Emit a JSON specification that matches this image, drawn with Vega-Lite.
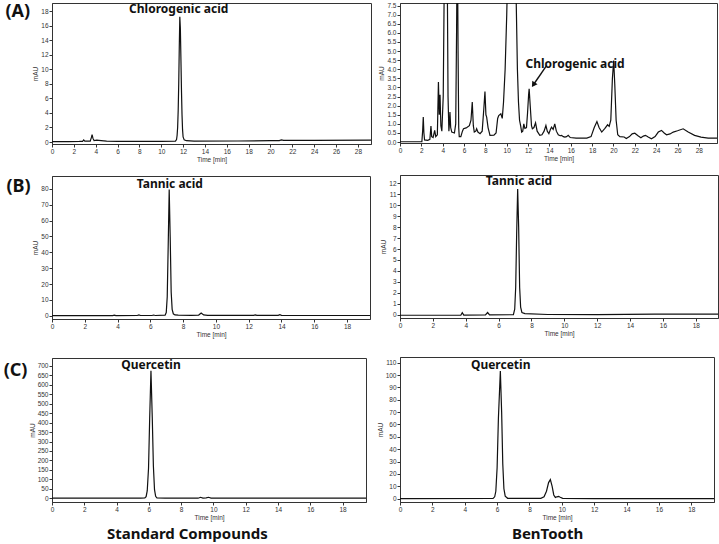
{
  "$schema": "https://vega.github.io/schema/vega-lite/v6.json",
  "padding": {"left": 3, "top": 2, "right": 0, "bottom": 0},
  "background": "white",
  "config": {
    "view": {"stroke": "#333", "strokeWidth": 1},
    "axis": {"labelFont": "Liberation Sans", "labelFontSize": 6.5, "labelColor": "#333", "tickColor": "#333", "tickSize": 3, "domainColor": "#333", "grid": false, "titleFont": "Liberation Sans", "titleFontSize": 6.5, "titleFontWeight": "normal", "titleColor": "#333", "labelPadding": 1, "titlePadding": 2, "labelOverlap": false, "labelFlush": false},
    "title": {"font": "Noto Sans", "fontWeight": "bold", "color": "#111"},
    "line": {"color": "#111", "strokeWidth": 1.2},
    "text": {"font": "Noto Sans", "fontWeight": "bold", "fontSize": 12, "color": "#111"}
  },
  "datasets": {
    "A_std": [
      {"t":0,"mAU":0.05},{"t":1.5,"mAU":0.05},{"t":2.5,"mAU":0.08},{"t":2.8,"mAU":0.1},{"t":2.9,"mAU":0.3},{"t":3.0,"mAU":0.12},{"t":3.5,"mAU":0.12},{"t":3.6,"mAU":0.6},{"t":3.67,"mAU":1.0},{"t":3.75,"mAU":0.5},{"t":3.85,"mAU":0.2},{"t":4.1,"mAU":0.25},{"t":4.5,"mAU":0.2},{"t":5.0,"mAU":0.12},{"t":6,"mAU":0.08},{"t":8,"mAU":0.08},{"t":10,"mAU":0.1},{"t":11.3,"mAU":0.12},{"t":11.4,"mAU":0.35},{"t":11.45,"mAU":0.9},{"t":11.5,"mAU":2.0},{"t":11.55,"mAU":4.3},{"t":11.6,"mAU":8.0},{"t":11.65,"mAU":13.0},{"t":11.7,"mAU":17.2},{"t":11.75,"mAU":15.6},{"t":11.8,"mAU":11.5},{"t":11.85,"mAU":7.2},{"t":11.9,"mAU":3.8},{"t":11.95,"mAU":1.7},{"t":12.0,"mAU":0.7},{"t":12.1,"mAU":0.3},{"t":12.3,"mAU":0.18},{"t":13,"mAU":0.13},{"t":17,"mAU":0.14},{"t":20,"mAU":0.18},{"t":20.8,"mAU":0.2},{"t":21.0,"mAU":0.3},{"t":21.2,"mAU":0.22},{"t":24,"mAU":0.22},{"t":29.2,"mAU":0.25}
    ],
    "A_ben": [
      {"t":0,"mAU":0.02},{"t":1.0,"mAU":0.02},{"t":2.05,"mAU":0.03},{"t":2.12,"mAU":0.6},{"t":2.18,"mAU":1.37},{"t":2.24,"mAU":0.5},{"t":2.3,"mAU":0.12},{"t":2.6,"mAU":0.1},{"t":2.8,"mAU":0.15},{"t":2.9,"mAU":0.88},{"t":2.97,"mAU":0.3},{"t":3.1,"mAU":0.25},{"t":3.25,"mAU":0.64},{"t":3.35,"mAU":0.3},{"t":3.5,"mAU":0.4},{"t":3.6,"mAU":3.3},{"t":3.68,"mAU":1.5},{"t":3.75,"mAU":2.6},{"t":3.83,"mAU":0.9},{"t":3.92,"mAU":0.6},{"t":4.05,"mAU":2.5},{"t":4.15,"mAU":9},{"t":4.3,"mAU":16},{"t":4.42,"mAU":10},{"t":4.5,"mAU":2.5},{"t":4.58,"mAU":0.6},{"t":4.63,"mAU":1.0},{"t":4.68,"mAU":1.65},{"t":4.75,"mAU":0.8},{"t":4.85,"mAU":0.55},{"t":5.1,"mAU":0.5},{"t":5.22,"mAU":1.0},{"t":5.3,"mAU":6},{"t":5.37,"mAU":12},{"t":5.44,"mAU":5},{"t":5.5,"mAU":0.8},{"t":5.55,"mAU":0.3},{"t":5.7,"mAU":0.3},{"t":5.85,"mAU":0.6},{"t":5.95,"mAU":0.73},{"t":6.2,"mAU":0.78},{"t":6.5,"mAU":0.9},{"t":6.65,"mAU":1.2},{"t":6.77,"mAU":2.2},{"t":6.87,"mAU":0.9},{"t":6.96,"mAU":0.55},{"t":7.1,"mAU":0.6},{"t":7.18,"mAU":0.73},{"t":7.3,"mAU":0.55},{"t":7.5,"mAU":0.46},{"t":7.7,"mAU":0.6},{"t":7.85,"mAU":1.8},{"t":7.96,"mAU":2.78},{"t":8.05,"mAU":1.5},{"t":8.12,"mAU":1.37},{"t":8.25,"mAU":0.8},{"t":8.43,"mAU":0.37},{"t":8.8,"mAU":0.38},{"t":9.0,"mAU":0.5},{"t":9.15,"mAU":1.3},{"t":9.25,"mAU":1.46},{"t":9.45,"mAU":1.55},{"t":9.58,"mAU":1.3},{"t":9.7,"mAU":2.2},{"t":9.85,"mAU":4},{"t":10.0,"mAU":7},{"t":10.15,"mAU":11},{"t":10.4,"mAU":18},{"t":10.55,"mAU":19},{"t":10.7,"mAU":16},{"t":10.85,"mAU":9},{"t":11.0,"mAU":4},{"t":11.1,"mAU":2.2},{"t":11.2,"mAU":1.2},{"t":11.3,"mAU":0.9},{"t":11.4,"mAU":0.55},{"t":11.5,"mAU":0.6},{"t":11.6,"mAU":1.0},{"t":11.7,"mAU":0.75},{"t":11.85,"mAU":0.8},{"t":11.95,"mAU":1.6},{"t":12.05,"mAU":2.6},{"t":12.1,"mAU":2.93},{"t":12.2,"mAU":2.0},{"t":12.32,"mAU":0.9},{"t":12.4,"mAU":0.73},{"t":12.55,"mAU":0.8},{"t":12.7,"mAU":1.06},{"t":12.85,"mAU":0.6},{"t":13.1,"mAU":0.37},{"t":13.3,"mAU":0.4},{"t":13.5,"mAU":0.6},{"t":13.67,"mAU":0.91},{"t":13.8,"mAU":0.6},{"t":13.95,"mAU":0.46},{"t":14.1,"mAU":0.7},{"t":14.2,"mAU":0.82},{"t":14.35,"mAU":0.7},{"t":14.5,"mAU":1.0},{"t":14.65,"mAU":0.6},{"t":14.83,"mAU":0.4},{"t":15.0,"mAU":0.35},{"t":15.14,"mAU":0.37},{"t":15.3,"mAU":0.3},{"t":15.45,"mAU":0.27},{"t":15.6,"mAU":0.3},{"t":15.76,"mAU":0.37},{"t":15.95,"mAU":0.25},{"t":16.5,"mAU":0.22},{"t":17.5,"mAU":0.22},{"t":17.9,"mAU":0.3},{"t":18.2,"mAU":0.8},{"t":18.45,"mAU":1.13},{"t":18.65,"mAU":0.8},{"t":18.9,"mAU":0.55},{"t":19.2,"mAU":0.75},{"t":19.45,"mAU":0.95},{"t":19.6,"mAU":0.86},{"t":19.75,"mAU":1.2},{"t":19.9,"mAU":3.5},{"t":20.02,"mAU":4.48},{"t":20.12,"mAU":3.2},{"t":20.25,"mAU":1.2},{"t":20.4,"mAU":0.4},{"t":20.6,"mAU":0.3},{"t":21.0,"mAU":0.28},{"t":21.2,"mAU":0.2},{"t":21.5,"mAU":0.3},{"t":21.75,"mAU":0.45},{"t":22.0,"mAU":0.49},{"t":22.3,"mAU":0.35},{"t":22.57,"mAU":0.24},{"t":22.8,"mAU":0.33},{"t":23.0,"mAU":0.37},{"t":23.25,"mAU":0.28},{"t":23.56,"mAU":0.18},{"t":23.9,"mAU":0.3},{"t":24.2,"mAU":0.55},{"t":24.5,"mAU":0.64},{"t":24.75,"mAU":0.5},{"t":24.97,"mAU":0.4},{"t":25.3,"mAU":0.45},{"t":25.6,"mAU":0.55},{"t":26.0,"mAU":0.62},{"t":26.53,"mAU":0.73},{"t":27.0,"mAU":0.55},{"t":27.6,"mAU":0.37},{"t":28.2,"mAU":0.27},{"t":28.87,"mAU":0.22},{"t":29.7,"mAU":0.22}
    ],
    "B_std": [
      {"t":0,"mAU":0},{"t":3.7,"mAU":0},{"t":3.8,"mAU":0.3},{"t":3.9,"mAU":0},{"t":5.2,"mAU":0.1},{"t":5.3,"mAU":0.5},{"t":5.4,"mAU":0.1},{"t":6.1,"mAU":0.1},{"t":6.2,"mAU":0.4},{"t":6.3,"mAU":0.1},{"t":6.9,"mAU":0.3},{"t":6.97,"mAU":2},{"t":7.03,"mAU":12},{"t":7.09,"mAU":45},{"t":7.15,"mAU":79.6},{"t":7.21,"mAU":50},{"t":7.27,"mAU":15},{"t":7.33,"mAU":4},{"t":7.4,"mAU":1.2},{"t":7.5,"mAU":0.5},{"t":7.7,"mAU":0.3},{"t":8.5,"mAU":0.2},{"t":8.95,"mAU":0.4},{"t":9.1,"mAU":1.7},{"t":9.25,"mAU":0.5},{"t":9.5,"mAU":0.2},{"t":12.3,"mAU":0.2},{"t":12.4,"mAU":0.5},{"t":12.5,"mAU":0.2},{"t":13.8,"mAU":0.2},{"t":13.9,"mAU":0.6},{"t":14.0,"mAU":0.2},{"t":19.4,"mAU":0.1}
    ],
    "B_ben": [
      {"t":0,"mAU":-0.05},{"t":3.7,"mAU":-0.05},{"t":3.79,"mAU":0.18},{"t":3.88,"mAU":-0.03},{"t":5.2,"mAU":-0.02},{"t":5.33,"mAU":0.2},{"t":5.45,"mAU":-0.02},{"t":6.9,"mAU":0},{"t":6.98,"mAU":0.5},{"t":7.04,"mAU":2.5},{"t":7.1,"mAU":7.5},{"t":7.16,"mAU":11.48},{"t":7.22,"mAU":8},{"t":7.28,"mAU":2.5},{"t":7.34,"mAU":0.7},{"t":7.42,"mAU":0.2},{"t":7.6,"mAU":0.1},{"t":9.0,"mAU":0.02},{"t":12,"mAU":0},{"t":15.5,"mAU":0.05},{"t":19.35,"mAU":0.05}
    ],
    "C_std": [
      {"t":0,"mAU":0},{"t":5.5,"mAU":0},{"t":5.75,"mAU":1},{"t":5.83,"mAU":8},{"t":5.9,"mAU":40},{"t":5.98,"mAU":160},{"t":6.05,"mAU":420},{"t":6.13,"mAU":674},{"t":6.21,"mAU":430},{"t":6.28,"mAU":170},{"t":6.35,"mAU":45},{"t":6.42,"mAU":10},{"t":6.5,"mAU":2},{"t":7,"mAU":0},{"t":9.05,"mAU":0},{"t":9.2,"mAU":5},{"t":9.35,"mAU":1},{"t":9.55,"mAU":2},{"t":9.7,"mAU":5},{"t":9.85,"mAU":1},{"t":10.2,"mAU":0},{"t":19.45,"mAU":0}
    ],
    "C_ben": [
      {"t":0,"mAU":0},{"t":5.75,"mAU":0.2},{"t":5.85,"mAU":1.5},{"t":5.92,"mAU":6},{"t":6.0,"mAU":25},{"t":6.08,"mAU":65},{"t":6.2,"mAU":103.2},{"t":6.28,"mAU":70},{"t":6.35,"mAU":28},{"t":6.42,"mAU":8},{"t":6.5,"mAU":2},{"t":6.65,"mAU":0.3},{"t":8.7,"mAU":0.3},{"t":8.9,"mAU":1.5},{"t":9.05,"mAU":6},{"t":9.18,"mAU":13},{"t":9.29,"mAU":15.4},{"t":9.4,"mAU":10},{"t":9.5,"mAU":3},{"t":9.6,"mAU":1},{"t":9.7,"mAU":1.5},{"t":9.8,"mAU":1.9},{"t":9.9,"mAU":1.2},{"t":10.05,"mAU":0.3},{"t":12,"mAU":0.1},{"t":19.4,"mAU":0}
    ]
  },
  "spacing": 4,
  "hconcat": [
    {
      "concat": [
        {
          "concat": [
            {
              "width": 319, "height": 141,
              "title": {"text": "(A)", "orient": "left", "anchor": "end", "angle": 0, "align": "right", "baseline": "top", "fontSize": 18, "offset": -22},
              "encoding": {
                "x": {"field": "t", "type": "quantitative", "scale": {"domain": [0, 29.2], "nice": false, "zero": false}, "axis": {"title": "Time [min]", "labelOverlap": false, "values": [0,2,4,6,8,10,12,14,16,18,20,22,24,26,28]}},
                "y": {"field": "mAU", "type": "quantitative", "scale": {"domain": [-0.27, 19.1], "nice": false, "zero": false}, "axis": {"title": "mAU", "labelOverlap": false, "values": [0,2,4,6,8,10,12,14,16,18]}}
              },
              "layer": [
                {"data": {"name": "A_std"}, "mark": {"type": "line", "clip": true}},
                {"data": {"values": [{"label": "Chlorogenic acid", "t": 11.6, "mAU": 18.3}]}, "mark": {"type": "text"}, "encoding": {"text": {"field": "label"}}}
              ]
            },
            {
              "width": 318, "height": 143,
              "title": {"text": "(B)", "orient": "left", "anchor": "end", "angle": 0, "align": "right", "baseline": "top", "fontSize": 18, "offset": -22, "dy": 2},
              "encoding": {
                "x": {"field": "t", "type": "quantitative", "scale": {"domain": [0, 19.4], "nice": false, "zero": false}, "axis": {"title": "Time [min]", "labelOverlap": false, "values": [0,2,4,6,8,10,12,14,16,18]}},
                "y": {"field": "mAU", "type": "quantitative", "scale": {"domain": [-2.1, 88.2], "nice": false, "zero": false}, "axis": {"title": "mAU", "labelOverlap": false, "values": [0,10,20,30,40,50,60,70,80]}}
              },
              "layer": [
                {"data": {"name": "B_std"}, "mark": {"type": "line", "clip": true}},
                {"data": {"values": [{"label": "Tannic acid", "t": 7.19, "mAU": 83.4}]}, "mark": {"type": "text"}, "encoding": {"text": {"field": "label"}}}
              ]
            }
          ],
          "columns": 1, "align": "none", "spacing": 11
        },
        {
          "width": 314, "height": 144,
          "title": {"text": "(C)", "orient": "left", "anchor": "end", "angle": 0, "align": "right", "baseline": "top", "fontSize": 18, "offset": -22, "dy": 4},
          "encoding": {
            "x": {"field": "t", "type": "quantitative", "scale": {"domain": [0, 19.45], "nice": false, "zero": false}, "axis": {"title": "Time [min]", "labelOverlap": false, "values": [0,2,4,6,8,10,12,14,16,18]}},
            "y": {"field": "mAU", "type": "quantitative", "scale": {"domain": [-20, 742], "nice": false, "zero": false}, "axis": {"title": "mAU", "labelOverlap": false, "values": [0,50,100,150,200,250,300,350,400,450,500,550,600,650,700]}}
          },
          "layer": [
            {"data": {"name": "C_std"}, "mark": {"type": "line", "clip": true}},
            {"data": {"values": [{"label": "Quercetin", "t": 6.13, "mAU": 707}]}, "mark": {"type": "text"}, "encoding": {"text": {"field": "label"}}}
          ]
        }
      ],
      "columns": 1, "align": "none", "spacing": 18,
      "title": {"text": "Standard Compounds", "orient": "bottom", "anchor": "middle", "fontSize": 15, "offset": 5}
    },
    {
      "concat": [
        {
          "concat": [
            {
              "width": 317, "height": 140,
              "encoding": {
                "x": {"field": "t", "type": "quantitative", "scale": {"domain": [0, 29.7], "nice": false, "zero": false}, "axis": {"title": "Time [min]", "labelOverlap": false, "values": [0,2,4,6,8,10,12,14,16,18,20,22,24,26,28]}},
                "y": {"field": "mAU", "type": "quantitative", "scale": {"domain": [-0.05, 7.64], "nice": false, "zero": false}, "axis": {"title": "mAU", "labelOverlap": false, "format": ".1f", "values": [0,0.5,1,1.5,2,2.5,3,3.5,4,4.5,5,5.5,6,6.5,7,7.5]}}
              },
              "layer": [
                {"data": {"name": "A_ben"}, "mark": {"type": "line", "clip": true}},
                {"data": {"values": [{"t": 13.73, "mAU": 4.2, "t2": 12.5, "m2": 3.15}]}, "mark": {"type": "rule", "color": "#111", "strokeWidth": 1.4},
                 "encoding": {"x2": {"field": "t2"}, "y2": {"field": "m2"}}},
                {"data": {"values": [{"t": 12.5, "mAU": 3.15}]}, "mark": {"type": "point", "shape": "triangle-up", "angle": 213, "filled": true, "color": "#111", "size": 40, "opacity": 1}},
                {"data": {"values": [{"label": "Chlorogenic acid", "t": 16.4, "mAU": 4.3}]}, "mark": {"type": "text"}, "encoding": {"text": {"field": "label"}}}
              ]
            },
            {
              "width": 318, "height": 143,
              "encoding": {
                "x": {"field": "t", "type": "quantitative", "scale": {"domain": [0, 19.35], "nice": false, "zero": false}, "axis": {"title": "Time [min]", "labelOverlap": false, "values": [0,2,4,6,8,10,12,14,16,18]}},
                "y": {"field": "mAU", "type": "quantitative", "scale": {"domain": [-0.3, 12.76], "nice": false, "zero": false}, "axis": {"title": "mAU", "labelOverlap": false, "values": [0,1,2,3,4,5,6,7,8,9,10,11,12]}}
              },
              "layer": [
                {"data": {"name": "B_ben"}, "mark": {"type": "line", "clip": true}},
                {"data": {"values": [{"label": "Tannic acid", "t": 7.24, "mAU": 12.2}]}, "mark": {"type": "text"}, "encoding": {"text": {"field": "label"}}}
              ]
            }
          ],
          "columns": 1, "align": "none", "spacing": 11
        },
        {
          "width": 314, "height": 145,
          "encoding": {
            "x": {"field": "t", "type": "quantitative", "scale": {"domain": [0, 19.4], "nice": false, "zero": false}, "axis": {"title": "Time [min]", "labelOverlap": false, "values": [0,2,4,6,8,10,12,14,16,18]}},
            "y": {"field": "mAU", "type": "quantitative", "scale": {"domain": [-2.7, 114.6], "nice": false, "zero": false}, "axis": {"title": "mAU", "labelOverlap": false, "values": [0,10,20,30,40,50,60,70,80,90,100,110]}}
          },
          "layer": [
            {"data": {"name": "C_ben"}, "mark": {"type": "line", "clip": true}},
            {"data": {"values": [{"label": "Quercetin", "t": 6.22, "mAU": 108.4}]}, "mark": {"type": "text"}, "encoding": {"text": {"field": "label"}}}
          ]
        }
      ],
      "columns": 1, "align": "none", "spacing": 18,
      "title": {"text": "BenTooth", "orient": "bottom", "anchor": "middle", "fontSize": 15, "offset": 5}
    }
  ]
}
